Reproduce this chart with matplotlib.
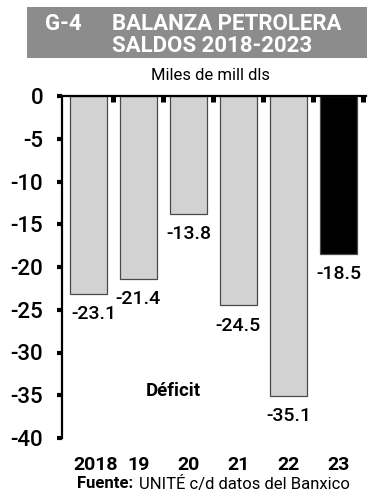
import matplotlib
matplotlib.use("Agg")
import matplotlib.pyplot as plt
from matplotlib.patches import Rectangle
from matplotlib.transforms import ScaledTranslation

plt.rcParams['font.family'] = ['Roboto', 'DejaVu Sans']

# datos
years = ['2018', '19', '20', '21', '22', '23']
saldos = [-23.1, -21.4, -13.8, -24.5, -35.1, -18.5]
bar_colors = ['#d2d2d2', '#d2d2d2', '#d2d2d2', '#d2d2d2', '#d2d2d2', '#000000']
yticks = [0, -5, -10, -15, -20, -25, -30, -35, -40]

fig = plt.figure(figsize=(3.87, 5.0), dpi=100)

# caja del titulo
fig.patches.append(Rectangle((0.070, 0.884), 0.879, 0.102, transform=fig.transFigure,
                             facecolor='#8c8c8c', edgecolor='none'))
fig.text(0.116, 0.951, 'G-4', color='white', fontsize=16, fontweight='bold', va='center', ha='left')
fig.text(0.289, 0.951, 'BALANZA PETROLERA', color='white', fontsize=16, fontweight='bold',
         va='center', ha='left')
fig.text(0.289, 0.908, 'SALDOS 2018-2023', color='white', fontsize=16, fontweight='bold',
         va='center', ha='left')
fig.text(0.543, 0.850, 'Miles de mill dls', fontsize=12, ha='center', va='center')

ax = fig.add_axes([0.160, 0.124, 0.787, 0.684])
x = list(range(len(years)))
ax.bar(x, saldos, width=0.75, color=bar_colors, edgecolor='#4a4a4a', linewidth=0.9, zorder=2)

for xi, v in zip(x, saldos):
    dx = 4 if xi == 0 else 0
    ax.annotate(f'{v:.1f}', (xi, v), xytext=(dx, -8), textcoords='offset points',
                ha='center', va='top', fontsize=14, fontweight='medium')

ax.text(1.69, -34.5, 'Déficit', fontsize=13.5, fontweight='bold', ha='center', va='center')

ax.set_xlim(-0.53, 5.56)
ax.set_ylim(-40, 0)

ax.spines['right'].set_visible(False)
ax.spines['bottom'].set_visible(False)
ax.spines['left'].set_linewidth(1.6)
ax.spines['top'].set_linewidth(1.6)

ax.set_yticks(yticks)
ax.set_yticklabels([str(t) for t in yticks], fontweight='medium')
ax.tick_params(axis='y', direction='out', length=3.6, width=3, pad=10, labelsize=16)

ax.set_xticks(x)
ax.set_xticklabels(years, fontweight='bold')
ax.tick_params(axis='x', length=0, pad=13, labelsize=14)
first = ax.get_xticklabels()[0]
first.set_transform(first.get_transform() + ScaledTranslation(5 / 72, 0, fig.dpi_scale_trans))

# marcas superiores entre barras
ax2 = ax.secondary_xaxis('top')
ax2.set_xticks([i + 0.5 for i in x])
ax2.set_xticklabels([])
ax2.tick_params(direction='in', length=4.5, width=3.6)
ax2.spines['top'].set_visible(False)

fig.text(0.344, 0.032, 'Fuente:', fontsize=12, fontweight='bold', ha='right', va='center')
fig.text(0.359, 0.032, 'UNITÉ c/d datos del Banxico', fontsize=12, ha='left', va='center')

fig.savefig('out.png', dpi=100)
